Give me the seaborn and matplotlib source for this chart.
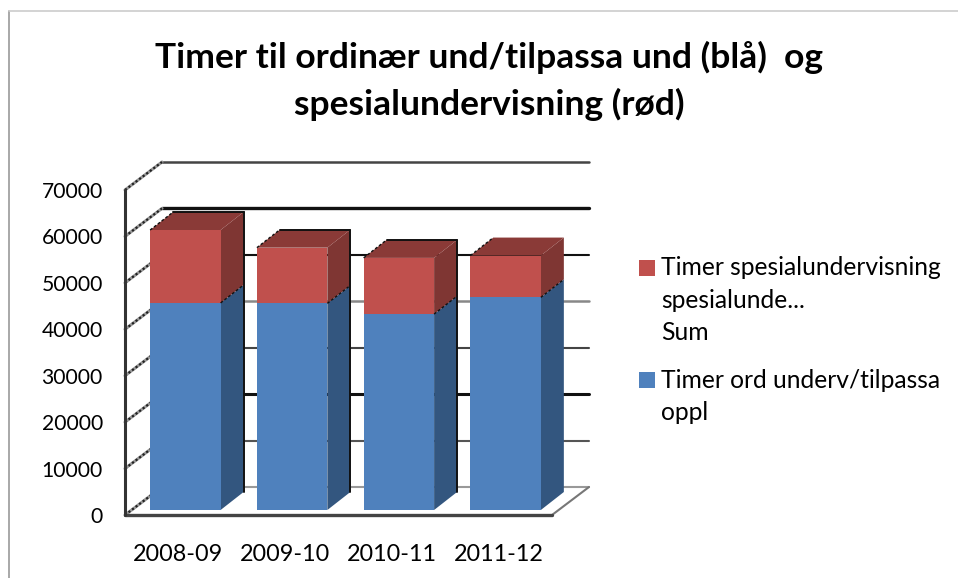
import matplotlib
matplotlib.use('Agg')
import matplotlib.pyplot as plt
import seaborn as sns
from matplotlib.lines import Line2D
from matplotlib.patches import Polygon, Rectangle
from matplotlib.transforms import Affine2D, IdentityTransform

# values
periods = ['2008-09', '2009-10', '2010-11', '2011-12']
ord_hours = [44600, 44500, 42200, 45800]
spes_hours = [15700, 12000, 12100, 9000]
y_ticks = [0, 10000, 20000, 30000, 40000, 50000, 60000, 70000]

title = 'Timer til ordinær und/tilpassa und (blå)  og\nspesialundervisning (rød)'
label_spes = 'Timer spesialundervisning\nspesialunde...\nSum'
label_ord = 'Timer ord underv/tilpassa\noppl'

W, H = 958, 578
BLUE, BLUE_SIDE = '#4F81BD', '#33567F'
RED, RED_SIDE, RED_TOP = '#C0504D', '#7F3633', '#8A3A37'

sns.set_theme(style='white')
plt.rcParams['font.family'] = ['Lato', 'DejaVu Sans']

fig = plt.figure(figsize=(W / 100, H / 100), dpi=100, facecolor='white')
# axes = front plane of the fake 3d box
ax = fig.add_axes([125 / W, 1 - 515 / H, (552 - 125) / W, (515 - 190) / H])
ax.patch.set_alpha(0)

bar_w = 0.66
sns.barplot(x=periods, y=ord_hours, color=BLUE, saturation=1, width=bar_w, ax=ax, zorder=5, linewidth=0)
sns.barplot(x=periods, y=spes_hours, bottom=ord_hours, color=RED, saturation=1,
            width=bar_w, ax=ax, zorder=5, linewidth=0)
ax.set_xlim(-0.5, 3.5)
ax.set_ylim(0, 70000)
ax.set_yticks(y_ticks)
ax.tick_params(axis='y', length=0, pad=16, labelsize=15.2, labelcolor='black')
ax.tick_params(axis='x', length=0, pad=21, labelsize=16.8, labelcolor='black')
sns.despine(ax=ax, left=True, bottom=True)

# offsets in pixels
wall_dx, wall_dy = 37, 28
bar_dx, bar_dy = 7, 5
depth_dx, depth_dy = 23, 18

px = IdentityTransform()
bar_trans = ax.transData + Affine2D().translate(bar_dx, bar_dy)
wall_trans = ax.transData + Affine2D().translate(wall_dx, wall_dy)

for cont in ax.containers:
    for p in cont:
        p.set_transform(bar_trans)
        p.set_clip_on(False)


def to_px(x, y):
    return ax.transData.transform((x, y))


def side_face(x, v0, v1, color):
    a = to_px(x, v0) + (bar_dx, bar_dy)
    b = to_px(x, v1) + (bar_dx, bar_dy)
    pts = [a, b, b + (depth_dx, depth_dy), a + (depth_dx, depth_dy)]
    ax.add_patch(Polygon(pts, closed=True, fc=color, ec='none', transform=px,
                         clip_on=False, zorder=4))


def pline(p0, p1, **kw):
    ax.add_line(Line2D([p0[0], p1[0]], [p0[1], p1[1]], transform=px, clip_on=False, **kw))


# back wall gridlines, uneven in the scan
grid_cols = ['#999999', '#555555', '#111111', '#444444', '#888888', '#111111', '#111111', '#444444']
grid_lw = [1.5, 1.5, 2.2, 1.5, 1.8, 1.5, 2.4, 1.8]
for v, c, lw in zip(y_ticks, grid_cols, grid_lw):
    ax.plot([-0.5, 3.5], [v, v], color=c, lw=lw, transform=wall_trans, clip_on=False, zorder=1)
    p = to_px(-0.5, v)
    pline(p, p + (wall_dx, wall_dy), color='#999999', lw=2.2, zorder=1)
    pline(p, p + (wall_dx, wall_dy), color='#222222', lw=1.6, ls=(0, (1, 1)), zorder=1)

# floor right edge and front axis lines
r = to_px(3.5, 0)
pline(r, r + (wall_dx, wall_dy), color='#777777', lw=1.5, zorder=1)
ax.plot([-0.5, -0.5], [0, 70000], color='#333333', lw=2.2, clip_on=False, zorder=6)
ax.plot([-0.5, 3.5], [0, 0], color='#444444', lw=2.4, clip_on=False, zorder=3)

# 3d faces of the bars
for i, (o, s) in enumerate(zip(ord_hours, spes_hours)):
    x_l, x_r = i - bar_w / 2, i + bar_w / 2
    top = o + s
    side_face(x_r, 0, o, BLUE_SIDE)
    side_face(x_r, o, top, RED_SIDE)
    a = to_px(x_l, top) + (bar_dx, bar_dy)
    b = to_px(x_r, top) + (bar_dx, bar_dy)
    ax.add_patch(Polygon([a, b, b + (depth_dx, depth_dy), a + (depth_dx, depth_dy)], closed=True,
                         fc=RED_TOP, ec='none', transform=px, clip_on=False, zorder=4))
    # dashed edges left by the scan
    pline(a, a + (depth_dx, depth_dy), color='#111111', lw=1, ls=(0, (2, 1.5)), zorder=6)
    m = to_px(x_r, o) + (bar_dx, bar_dy)
    pline(m, m + (depth_dx, depth_dy), color='#111111', lw=1, ls=(0, (2, 1.5)), zorder=6)
    b0 = to_px(x_r, 0) + (bar_dx + depth_dx, bar_dy + depth_dy)
    if i < 3:
        pline(b0, b + (depth_dx, depth_dy), color='#111111', lw=1.4, zorder=6)
        pline(a + (depth_dx, depth_dy), b + (depth_dx, depth_dy), color='#111111', lw=1.4, zorder=6)

# chart frame
fig.add_artist(Line2D([9 / W, 9 / W], [0, 1 - 11 / H], color='#999999', lw=1.2))
fig.add_artist(Line2D([9 / W, 1], [1 - 11 / H, 1 - 11 / H], color='#cccccc', lw=1.2))

fig.text(489 / W, 1 - 81 / H, title, ha='center', va='center', fontsize=25.5,
         fontweight='bold', color='black', linespacing=1.5)

# legend
for y_top, col in [(260, RED), (372, BLUE)]:
    fig.add_artist(Rectangle((639 / W, 1 - (y_top + 16) / H), 16 / W, 16 / H, fc=col, ec='none',
                             transform=fig.transFigure))
fig.text(661 / W, 1 - 256 / H, label_spes, ha='left', va='top', fontsize=17.7,
         color='black', linespacing=1.5)
fig.text(661 / W, 1 - 369 / H, label_ord, ha='left', va='top', fontsize=17.7,
         color='black', linespacing=1.5)

fig.savefig('out.png', dpi=100)
